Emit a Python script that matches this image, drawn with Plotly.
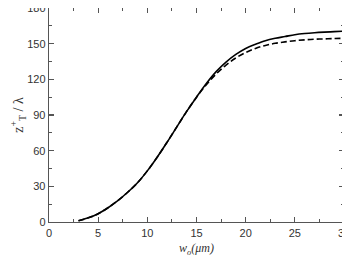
import plotly.graph_objects as go

w0 = [3, 4, 5, 6, 7, 8, 9, 10, 11, 12, 13, 14, 15, 16, 17, 18, 19, 20, 21, 22, 23, 24, 25, 26, 27, 28, 29, 30]
z_solid = [1, 3.5, 7, 12, 18, 25, 33, 43, 54.5, 67, 80, 93, 105, 116.5, 126.5, 134.5, 141, 146, 149.5, 152.5, 154.5, 156, 157.5, 158.5, 159.2, 159.7, 160.1, 160.5]
z_dash = [1, 3.5, 7, 12, 18, 25, 33, 43, 54.5, 67, 80, 93, 105, 115.5, 124.5, 132, 138, 142.5, 146, 148.5, 150.3, 151.5, 152.5, 153.2, 153.7, 154.0, 154.3, 154.5]

x_ticks = [0, 5, 10, 15, 20, 25, 30]
y_ticks = [0, 30, 60, 90, 120, 150, 180]

fig = go.Figure()
fig.add_trace(go.Scatter(x=w0, y=z_dash, mode="lines", line=dict(color="black", width=1.6, dash="6px,3px"), line_shape="spline"))
fig.add_trace(go.Scatter(x=w0, y=z_solid, mode="lines", line=dict(color="black", width=1.6), line_shape="spline"))

axis_common = dict(
    showline=True, linecolor="#555", linewidth=1.3, mirror="ticks",
    ticks="inside", ticklen=5, tickwidth=1.2, tickcolor="#555",
    showgrid=False, zeroline=False, automargin=False, ticklabeloverflow="allow",
    tickfont=dict(family="Liberation Sans, Arial", size=11, color="#333"),
)

# the page body keeps its default 8px margin, so the figure is sized to fit inside it
fig.update_layout(
    width=342, height=255,
    margin=dict(l=41, r=6, t=0, b=41),
    paper_bgcolor="white", plot_bgcolor="white",
    showlegend=False,
    xaxis=dict(range=[0, 30], tickvals=x_ticks,
               minor=dict(ticks="inside", ticklen=3, tickcolor="#555", tickwidth=1, dtick=2.5, tick0=0),
               title=dict(text="<i>w<sub>o</sub>(μm)</i>", standoff=6,
                          font=dict(family="Liberation Serif, Times New Roman", size=12, color="#333")),
               **axis_common),
    yaxis=dict(range=[0, 180], tickvals=y_ticks,
               minor=dict(ticks="inside", ticklen=3, tickcolor="#555", tickwidth=1, dtick=15, tick0=0),
               title=dict(text="z<sup>+</sup><sub>T</sub> / λ", standoff=10,
                          font=dict(family="Liberation Serif, Times New Roman", size=14, color="#333")),
               **axis_common),
)

fig.write_html("out.html", config={"displayModeBar": False, "staticPlot": True})
